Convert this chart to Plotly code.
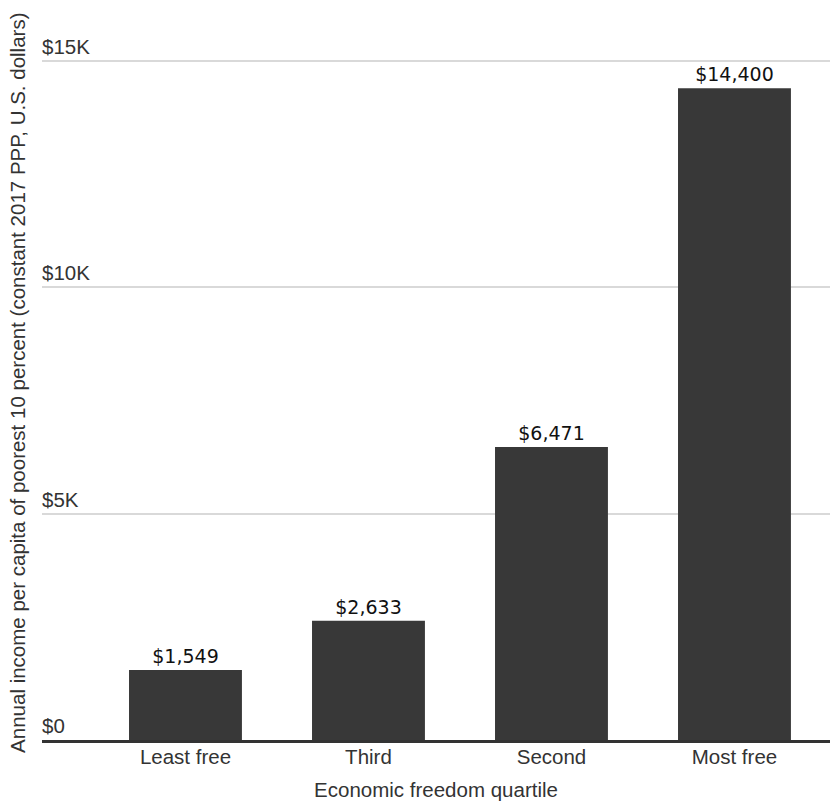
import plotly.graph_objects as go

categories = ["Least free", "Third", "Second", "Most free"]
values = [1549, 2633, 6471, 14400]
labels = ["$1,549", "$2,633", "$6,471", "$14,400"]
tick_vals = [0, 5000, 10000, 15000]
tick_text = ["$0", "$5K", "$10K", "$15K"]

FONT = "Liberation Sans, Arial, sans-serif"
LABEL_FONT = "DejaVu Sans, Liberation Sans, sans-serif"
FS = 20.5

fig = go.Figure(go.Bar(
    x=categories, y=values, text=labels, textposition="outside",
    marker=dict(color="#383838", line=dict(width=0)),
    width=0.617, cliponaxis=False,
    textfont=dict(family=LABEL_FONT, size=19, color="#111"),
))

fig.update_layout(
    width=830, height=804,
    margin=dict(l=42, r=0, t=20, b=64),
    plot_bgcolor="white", paper_bgcolor="white",
    showlegend=False,
    font=dict(family=FONT, size=FS, color="#333"),
    xaxis=dict(
        range=[-0.784, 3.522],
        showline=True, linecolor="#333", linewidth=3,
        showgrid=False, ticks="",
        ticklabelstandoff=-4,
        tickfont=dict(size=FS, color="#333"),
        title=dict(text="Economic freedom quartile", font=dict(size=FS, color="#333"), standoff=17),
    ),
    yaxis=dict(
        range=[0, 15906],
        tickvals=tick_vals, ticktext=tick_text,
        ticklabelposition="inside top",
        ticklabelstandoff=-3,
        tickfont=dict(size=FS, color="#333"),
        showgrid=True, gridcolor="#d9d9d9", gridwidth=2,
        zeroline=False, ticks="",
    ),
    annotations=[dict(
        text="Annual income per capita of poorest 10 percent (constant 2017 PPP, U.S. dollars)",
        textangle=-90, xref="paper", yref="paper",
        x=(18 - 42) / 788, y=0.496, xanchor="center", yanchor="middle",
        showarrow=False, font=dict(family=FONT, size=FS, color="#333"),
    )],
)

fig.write_html("out.html")
